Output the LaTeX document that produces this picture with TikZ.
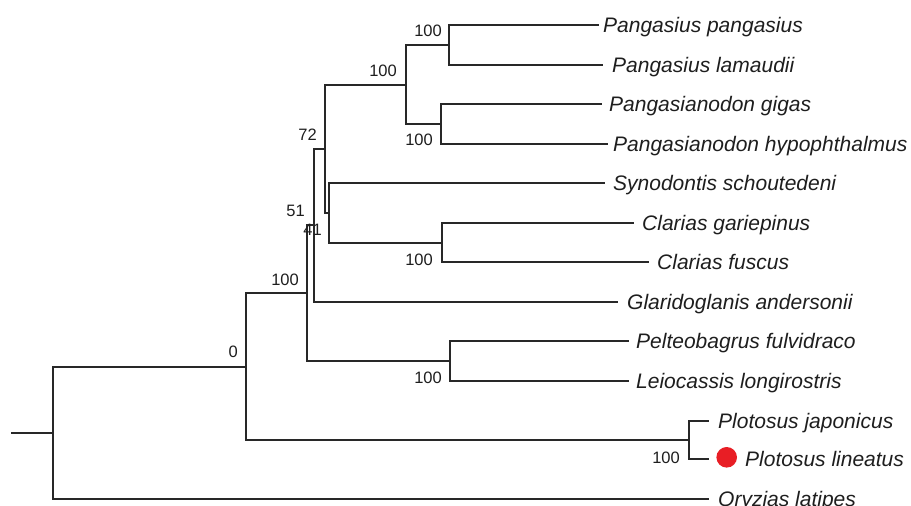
\documentclass[tikz,border=0pt]{standalone}
\usepackage{fontspec}
\setmainfont{Liberation Sans}
\definecolor{branch}{RGB}{40,40,40}
\definecolor{txt}{RGB}{30,30,30}
\definecolor{dotred}{RGB}{232,30,37}
\tikzset{
  br/.style={draw=branch, line width=1.3pt, line cap=rect},
  taxon/.style={anchor=base west, inner sep=0pt, yshift=-7.5pt, text=txt,
    font=\fontsize{21}{24}\selectfont\itshape},
  boot/.style={anchor=east, inner sep=0pt, text=txt,
    font=\fontsize{16.5}{19}\selectfont}
}
\begin{document}
\begin{tikzpicture}[x=1pt,y=-1pt]
\useasboundingbox (0,0) rectangle (911,506);
% internal nodes
\coordinate (stub) at (12,433);
\coordinate (R) at (53,433);
\coordinate (N0) at (246,367);
\coordinate (N100) at (307,293);
\coordinate (N51) at (314,225);
\coordinate (N72) at (325,149);
\coordinate (Npang) at (406,85);
\coordinate (Np1) at (449,45);
\coordinate (Np2) at (441,124);
\coordinate (Nsc) at (329,213);
\coordinate (Ncl) at (442,243);
\coordinate (Npel) at (450,361);
\coordinate (Nplot) at (689,440);
% tips
\coordinate (t1) at (598,25);
\coordinate (t2) at (602,65);
\coordinate (t3) at (601,104);
\coordinate (t4) at (607,144);
\coordinate (t5) at (604,183);
\coordinate (t6) at (633,223);
\coordinate (t7) at (648,262);
\coordinate (t8) at (617,302);
\coordinate (t9) at (628,341);
\coordinate (t10) at (628,381);
\coordinate (t11) at (708,421);
\coordinate (t12) at (708,459);
\coordinate (t13) at (708,499);
% branches
\draw[br] (stub) -- (R);
\draw[br] (R) |- (N0);
\draw[br] (R) |- (t13);
\draw[br] (N0) |- (N100);
\draw[br] (N0) |- (Nplot);
\draw[br] (N100) |- (N51);
\draw[br] (N100) |- (Npel);
\draw[br] (N51) |- (N72);
\draw[br] (N51) |- (t8);
\draw[br] (N72) |- (Npang);
\draw[br] (N72) |- (Nsc);
\draw[br] (Npang) |- (Np1);
\draw[br] (Npang) |- (Np2);
\draw[br] (Np1) |- (t1);
\draw[br] (Np1) |- (t2);
\draw[br] (Np2) |- (t3);
\draw[br] (Np2) |- (t4);
\draw[br] (Nsc) |- (t5);
\draw[br] (Nsc) |- (Ncl);
\draw[br] (Ncl) |- (t6);
\draw[br] (Ncl) |- (t7);
\draw[br] (Npel) |- (t9);
\draw[br] (Npel) |- (t10);
\draw[br] (Nplot) |- (t11);
\draw[br] (Nplot) |- (t12);
% taxa
\node[taxon] (L1) at (603,25) {Pangasius pangasius};
\node[taxon] (L2) at (612,65) {Pangasius lamaudii};
\node[taxon] (L3) at (609,104) {Pangasianodon gigas};
\node[taxon] (L4) at (613,144) {Pangasianodon hypophthalmus};
\node[taxon] (L5) at (613,183) {Synodontis schoutedeni};
\node[taxon] (L6) at (642,223) {Clarias gariepinus};
\node[taxon] (L7) at (657,262) {Clarias fuscus};
\node[taxon] (L8) at (627,302) {Glaridoglanis andersonii};
\node[taxon] (L9) at (636,341) {Pelteobagrus fulvidraco};
\node[taxon] (L10) at (636,381) {Leiocassis longirostris};
\node[taxon] (L11) at (718,421) {Plotosus japonicus};
\node[taxon] (L12) at (745,459) {Plotosus lineatus};
\node[taxon] (L13) at (718,499) {Oryzias latipes};
\fill[dotred] (726.7,457.3) circle[radius=10.3];
% bootstrap values
\node[boot] (b1) at (442,31) {100};
\node[boot] (b2) at (397,71) {100};
\node[boot] (b3) at (433,140) {100};
\node[boot] (b4) at (317,135) {72};
\node[boot] (b5) at (305,211) {51};
\node[boot] (b6) at (322,230) {41};
\node[boot] (b7) at (433,259.5) {100};
\node[boot] (b8) at (299,279.5) {100};
\node[boot] (b9) at (238,352) {0};
\node[boot] (b10) at (442,378) {100};
\node[boot] (b11) at (680,457.5) {100};
\end{tikzpicture}
\end{document}
